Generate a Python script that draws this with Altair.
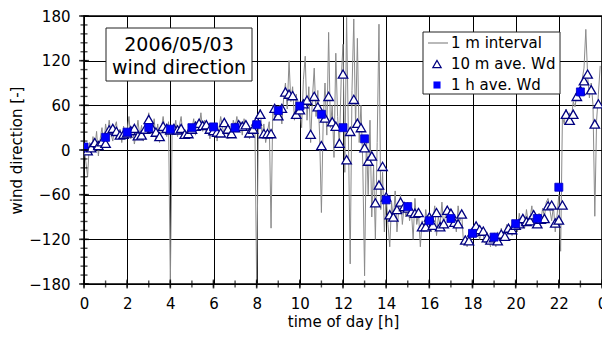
import altair as alt
import pandas as pd

# ---------------- data ----------------
# 1-minute record, sampled here every 5 minutes (12 values per hour)
line_values = (
    [3, -15, -36, 10, -5, 18, 2, 25, -8, 15, 30, 5]
    + [35, 18, 40, 22, 12, 30, 38, 15, 28, 10, 32, 20]
    + [25, 45, 15, 30, 8, 22, 40, 18, 33, 12, 28, 35]
    + [50, 30, 20, 42, 15, 35, 10, 28, 45, 25, 18, 38]
    + [-180, 30, 22, 40, 18, 32, 45, 20, 28, 15, 25, 35]
    + [28, 42, 20, 38, 30, 50, 25, 40, 22, 35, 15, 30]
    + [20, 35, 12, 28, 45, 30, 22, 38, 15, 32, 20, 40]
    + [30, 45, 25, 38, 20, 42, 28, 35, 15, 30, 22, 38]
    + [-180, 45, 55, 20, 35, 10, 25, 38, -105, 60, 40, 55]
    + [45, 60, 35, 70, 90, 55, 120, 65, 85, 40, 75, 50]
    + [60, 30, 95, 126, 40, 85, 10, 70, 110, 45, 80, 20]
    + [-84, 40, 90, 20, 158, 30, 60, -10, 130, 45, 5, 95]
    + [142, -30, 178, 20, -153, 80, 176, 30, 150, 10, 60, -20]
    + [-169, 20, -60, 40, -90, -20, -120, 10, 169, -80, -30, -110]
    + [-60, -100, -130, -70, -95, -55, -110, -80, -60, -100, -75, -90]
    + [-70, -95, -80, -120, -65, -100, -85, -130, -95, -110, -80, -100]
    + [-85, -110, -95, -75, -115, -90, -100, -70, -105, -85, -75, -95]
    + [-80, -100, -90, -110, -75, -95, -85, -125, -115, -130, -110, -120]
    + [-105, -115, -100, -110, -120, -105, -115, -125, -110, -120, -130, -115]
    + [-120, -130, -110, -125, -105, -118, -112, -100, -110, -105, -115, -100]
    + [-95, -110, -85, -100, -90, -105, -80, -98, -92, -75, -100, -90]
    + [-100, -85, -95, -78, -90, -70, -65, -80, -95, -75, -110, -88]
    + [-60, -136, 45, 35, 55, 40, 50, 42, 65, 58, 75, 70]
    + [85, 95, 110, 162, 100, 70, 90, 60, -89, 40, 75, 113]
)
line_hours = [i * 5 / 60 for i in range(len(line_values))]

# 10-minute averages, at 0:10, 0:20, ... 23:50
tri_values = (
    [-1, 3, 10, 6, 11, 9]
    + [27, 29, 25, 20, 21, 23]
    + [26, 29, 19, 20, 28, 41]
    + [29, 24, 18, 32, 29, 27]
    + [29, 27, 29, 21, 22, 28]
    + [32, 36, 33, 34, 28, 26]
    + [24, 23, 37, 28, 22, 30]
    + [34, 32, 34, 23, 28, 39]
    + [48, 22, 22, 22, 56, 46]
    + [56, 78, 75, 73, 48, 54]
    + [62, 67, 21, 72, 58, 6]
    + [43, 72, 38, 32, 9, 102]
    + [-13, 25, 68, 36, 30, 3]
    + [-15, -8, -71, -47, -22, -63]
    + [-87, -90, -80, -70, -76, -78]
    + [-83, -85, -84, -103, -103, -90]
    + [-101, -84, -103, -99, -81, -85]
    + [-97, -99, -86, -121, -122, -110]
    + [-102, -107, -109, -118, -121, -118]
    + [-122, -113, -116, -105, -107, -101]
    + [-99, -92, -96, -95, -87, -99]
    + [-93, -92, -75, -74, -98, -94]
    + [-74, 48, 40, 48, 72, 80]
    + [93, 102, 81, 35, 62]
)
tri_hours = [(k + 1) / 6 for k in range(len(tri_values))]

# 1-hour averages, at 0, 1, ... 23 h
sq_hours = list(range(24))
sq_values = [4, 17, 24, 30, 28, 30, 31, 30, 34, 53, 59, 48,
             30, 15, -67, -76, -95, -92, -112, -117, -99, -92, -50, 78]

x_major = list(range(0, 25, 2))
x_minor = list(range(0, 25, 1))
y_major = list(range(-180, 181, 60))
y_minor = list(range(-180, 181, 12))

legend_labels = ["1 m interval", "10 m ave. Wd", "1 h ave. Wd"]
title_lines = ["2006/05/03", "wind direction"]

# ---------------- chart ----------------
W, H = 518, 268
FONT = "DejaVu Sans"

df_line = pd.DataFrame({"hour": line_hours, "wd": line_values})
df_tri = pd.DataFrame({"hour": tri_hours, "wd": tri_values})
df_sq = pd.DataFrame({"hour": sq_hours, "wd": sq_values})
one = pd.DataFrame({"a": [0]})

xscale = alt.Scale(domain=[0, 24], nice=False, zero=False)
yscale = alt.Scale(domain=[-180, 180], nice=False, zero=False)

xaxis = alt.Axis(
    values=x_major, grid=True, gridColor="black", gridWidth=1, gridOpacity=1,
    ticks=False, tickSize=0, domain=False, labelOverlap=False, labelFlush=False,
    labelExpr="datum.value == 24 ? '0' : datum.label",
    labelFont=FONT, labelFontSize=15, labelColor="black", labelPadding=12,
    title="time of day [h]", titleFont=FONT, titleFontSize=15,
    titleFontWeight="normal", titleColor="black", titlePadding=3,
)
yaxis = alt.Axis(
    values=y_major, grid=True, gridColor="black", gridWidth=1, gridOpacity=1,
    ticks=False, tickSize=0, domain=False, labelOverlap=False, labelFlush=False,
    labelFont=FONT, labelFontSize=15, labelColor="black", labelPadding=14,
    title="wind direction [-]", titleFont=FONT, titleFontSize=15,
    titleFontWeight="normal", titleColor="black", titlePadding=4,
)

line = alt.Chart(df_line).mark_line(color="#8a8a8a", strokeWidth=1, clip=True).encode(
    x=alt.X("hour:Q", scale=xscale, axis=xaxis),
    y=alt.Y("wd:Q", scale=yscale, axis=yaxis),
)
tri = alt.Chart(df_tri).mark_point(
    shape="triangle-up", size=90, fill="white", fillOpacity=1,
    stroke="#000080", strokeWidth=1.3, opacity=1, clip=True,
).encode(x="hour:Q", y="wd:Q")
sq = alt.Chart(df_sq).mark_square(
    size=64, color="#0000ff", opacity=1, stroke="#0000c0", strokeWidth=0.8, clip=True,
).encode(x="hour:Q", y="wd:Q")

# axis ticks that cross the frame
ytick_minor = alt.Chart(pd.DataFrame({"wd": y_minor})).mark_tick(
    orient="horizontal", size=7, thickness=1.4, color="black"
).encode(y="wd:Q", x=alt.value(0))
ytick_major = alt.Chart(pd.DataFrame({"wd": y_major})).mark_tick(
    orient="horizontal", size=10, thickness=1.6, color="black"
).encode(y="wd:Q", x=alt.value(0))
xtick_minor = alt.Chart(pd.DataFrame({"hour": x_minor})).mark_tick(
    orient="vertical", size=7, thickness=1.4, color="black"
).encode(x="hour:Q", y=alt.value(H))
xtick_major = alt.Chart(pd.DataFrame({"hour": x_major})).mark_tick(
    orient="vertical", size=9, thickness=1.6, color="black"
).encode(x="hour:Q", y=alt.value(H))

# title box
tbox = alt.Chart(one).mark_rect(fill="white", stroke="#222", strokeWidth=1).encode(
    x=alt.value(22), x2=alt.value(168), y=alt.value(12), y2=alt.value(65)
)
t1 = alt.Chart(one).mark_text(
    text=title_lines[0], font=FONT, fontSize=19, color="black", align="center", baseline="middle"
).encode(x=alt.value(95), y=alt.value(29))
t2 = alt.Chart(one).mark_text(
    text=title_lines[1], font=FONT, fontSize=19, color="black", align="center", baseline="middle"
).encode(x=alt.value(95), y=alt.value(52))

# legend box
lbox = alt.Chart(one).mark_rect(fill="white", stroke="#222", strokeWidth=1).encode(
    x=alt.value(339), x2=alt.value(476), y=alt.value(16), y2=alt.value(78)
)
lg_line = alt.Chart(one).mark_rule(color="#8a8a8a", strokeWidth=1.2).encode(
    x=alt.value(344), x2=alt.value(364), y=alt.value(27)
)
lg_tri = alt.Chart(one).mark_point(
    shape="triangle-up", size=70, fill="white", fillOpacity=1,
    stroke="#000080", strokeWidth=1.2, opacity=1,
).encode(x=alt.value(353), y=alt.value(48))
lg_sq = alt.Chart(one).mark_square(size=50, color="#0000ff", opacity=1).encode(
    x=alt.value(353), y=alt.value(69)
)
lg_texts = [
    alt.Chart(one).mark_text(
        text=lab, font=FONT, fontSize=15, color="black", align="left", baseline="middle"
    ).encode(x=alt.value(367), y=alt.value(yy))
    for lab, yy in zip(legend_labels, [27, 48, 69])
]

chart = alt.layer(
    line, tri, sq,
    ytick_minor, ytick_major, xtick_minor, xtick_major,
    tbox, t1, t2, lbox, lg_line, lg_tri, lg_sq, *lg_texts,
).properties(
    width=W, height=H,
    padding={"left": 76, "top": 8, "right": 0, "bottom": 46},
    autosize=alt.AutoSizeParams(type="none"),
    background="white",
).configure_view(stroke="black", strokeWidth=1.6)

chart.save("out.html", embed_options={"renderer": "svg", "actions": False})
